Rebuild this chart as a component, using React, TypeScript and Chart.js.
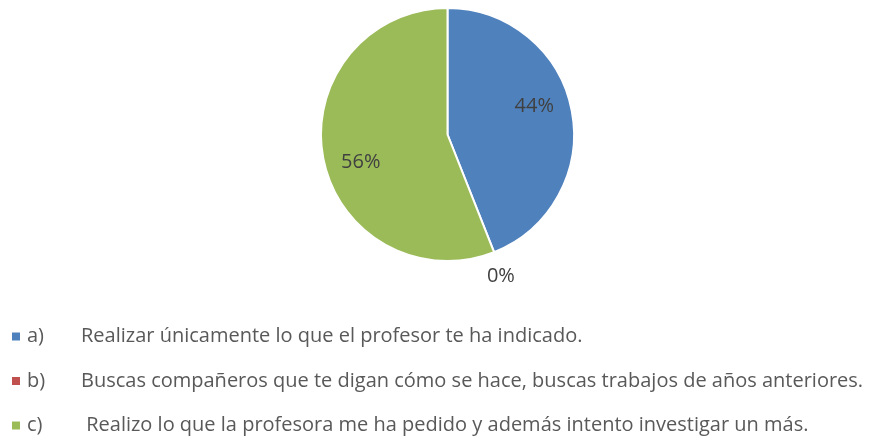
import React, { useEffect, useRef } from "react";
import { Chart, registerables } from "chart.js";

Chart.register(...registerables);

const categories = ["a)", "b)", "c)"];
const descriptions = [
  "Realizar únicamente lo que el profesor te ha indicado.",
  "Buscas compañeros que te digan cómo se hace, buscas trabajos de años anteriores.",
  " Realizo lo que la profesora me ha pedido y además intento investigar un más.",
];
const values = [44, 0, 56];
const colors = ["#4F81BD", "#C0504D", "#9BBB59"];

const FONT = "'Open Sans', sans-serif";

const pieLabels = {
  id: "pieLabels",
  afterDatasetsDraw(chart: any) {
    const ctx = chart.ctx;
    const meta = chart.getDatasetMeta(0);
    const data = chart.data.datasets[0].data as number[];
    const total = data.reduce((a, b) => a + b, 0);
    ctx.save();
    ctx.font = `20px ${FONT}`;
    ctx.fillStyle = "#404040";
    ctx.textAlign = "center";
    ctx.textBaseline = "middle";
    meta.data.forEach((arc: any, i: number) => {
      const v = data[i];
      const pct = Math.round((v / total) * 100) + "%";
      const { x, y, startAngle, endAngle, outerRadius } = arc.getProps(
        ["x", "y", "startAngle", "endAngle", "outerRadius"],
        true
      );
      let mid = (startAngle + endAngle) / 2;
      let r: number;
      if (v === 0) {
        r = outerRadius * 1.2;
        mid += (1 * Math.PI) / 180;
      } else {
        mid -= (7 * Math.PI) / 180;
        r = outerRadius * 0.72;
      }
      ctx.fillText(pct, x + Math.cos(mid) * r, y + Math.sin(mid) * r);
    });
    ctx.restore();
  },
};

const listLegend = {
  id: "listLegend",
  afterDraw(chart: any) {
    const ctx = chart.ctx;
    const ds = chart.data.datasets[0];
    ctx.save();
    ctx.font = `20px ${FONT}`;
    ctx.fillStyle = "#595959";
    ctx.textBaseline = "middle";
    ctx.textAlign = "left";
    const startY = 336.5;
    const gap = 44.5;
    chart.data.labels.forEach((lab: string, i: number) => {
      const cy = startY + i * gap;
      ctx.fillStyle = ds.backgroundColor[i];
      ctx.fillRect(12, cy - 4, 8, 8);
      ctx.fillStyle = "#595959";
      ctx.fillText(lab, 27, cy);
      ctx.fillText(descriptions[i], 81, cy);
    });
    ctx.restore();
  },
};

export default function App() {
  const ref = useRef<HTMLCanvasElement>(null);
  useEffect(() => {
    if (!ref.current) return;
    const chart = new Chart(ref.current, {
      type: "pie",
      data: {
        labels: categories,
        datasets: [
          {
            data: values,
            backgroundColor: colors,
            borderColor: "#FFFFFF",
            borderWidth: 2,
          },
        ],
      },
      options: {
        animation: false,
        responsive: true,
        maintainAspectRatio: false,
        layout: { padding: { top: 7, bottom: 179, left: 0, right: 0 } },
        plugins: {
          legend: { display: false },
          tooltip: { enabled: false },
        },
      },
      plugins: [pieLabels, listLegend],
    });
    return () => chart.destroy();
  }, []);
  return (
    <div
      style={{
        position: "fixed",
        left: 0,
        top: 0,
        width: 895,
        height: 441,
        background: "#FFFFFF",
      }}
    >
      <canvas ref={ref} />
    </div>
  );
}
